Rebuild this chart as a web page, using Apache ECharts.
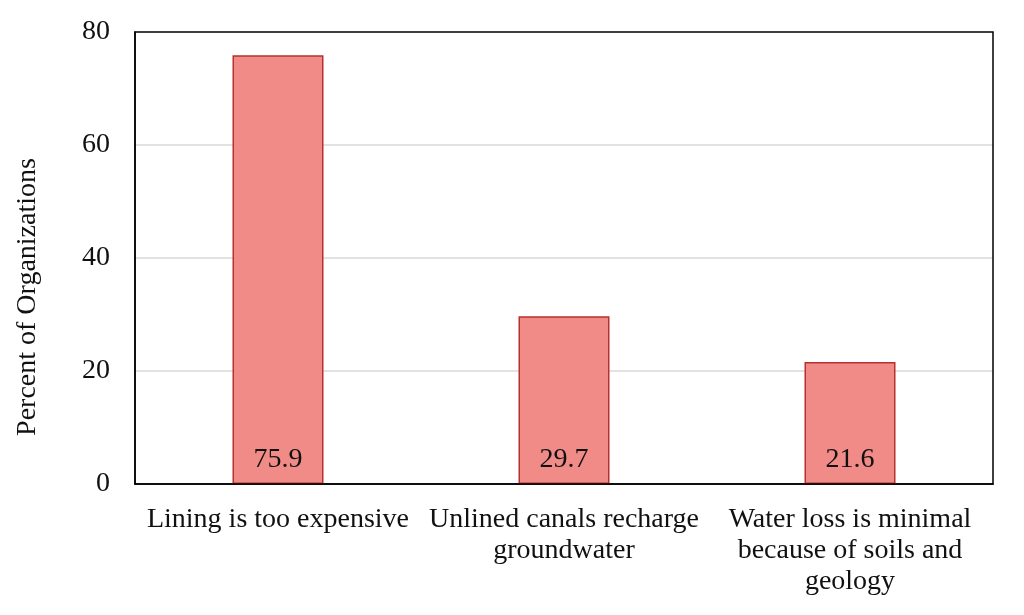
<!DOCTYPE html>
<html><head><meta charset="utf-8">
<script src="https://cdn.jsdelivr.net/npm/echarts@6/dist/echarts.min.js"></script>
<style>html,body{margin:0;padding:0;background:#fff}#c{width:1024px;height:615px}</style>
</head><body><div id="c"></div>
<script>
const categories = ["Lining is too expensive", "Unlined canals recharge\ngroundwater", "Water loss is minimal\nbecause of soils and\ngeology"];
const values = [75.9, 29.7, 21.6];
const yTicks = {min: 0, max: 80, interval: 20};
const yTitle = "Percent of Organizations";

const font = "'Liberation Serif', 'Times New Roman', serif";
const chart = echarts.init(document.getElementById('c'));
chart.setOption({
  animation: false,
  backgroundColor: '#fff',
  grid: {left: 135, right: 31, top: 32, bottom: 131, show: true, borderColor: '#000', borderWidth: 1.5, z: 5},
  graphic: [{
    type: 'text', x: 28, y: 297, rotation: Math.PI/2,
    style: {text: yTitle, font: "28px " + font, fill: '#111', align: 'center', verticalAlign: 'middle'}
  }],
  xAxis: {
    type: 'category', data: categories,
    axisLine: {show: true, lineStyle: {color: '#000', width: 1.5}},
    axisTick: {show: false},
    axisLabel: {fontFamily: font, fontSize: 28, color: '#111', lineHeight: 31, margin: 20, interval: 0}
  },
  yAxis: {
    type: 'value', min: yTicks.min, max: yTicks.max, interval: yTicks.interval,
    axisLine: {show: true, lineStyle: {color: '#000', width: 1.5}},
    axisTick: {show: false},
    splitLine: {showMaxLine: false, lineStyle: {color: '#d9d9d9', width: 1.5}},
    axisLabel: {fontFamily: font, fontSize: 28, color: '#111', margin: 25}
  },
  series: [{
    type: 'bar', data: values, barWidth: 91,
    itemStyle: {color: '#f08b88', borderColor: '#b8302c', borderWidth: 1.5},
    label: {show: true, position: 'insideBottom', distance: 10, fontFamily: font, fontSize: 28, color: '#111'}
  }]
});
</script></body></html>
